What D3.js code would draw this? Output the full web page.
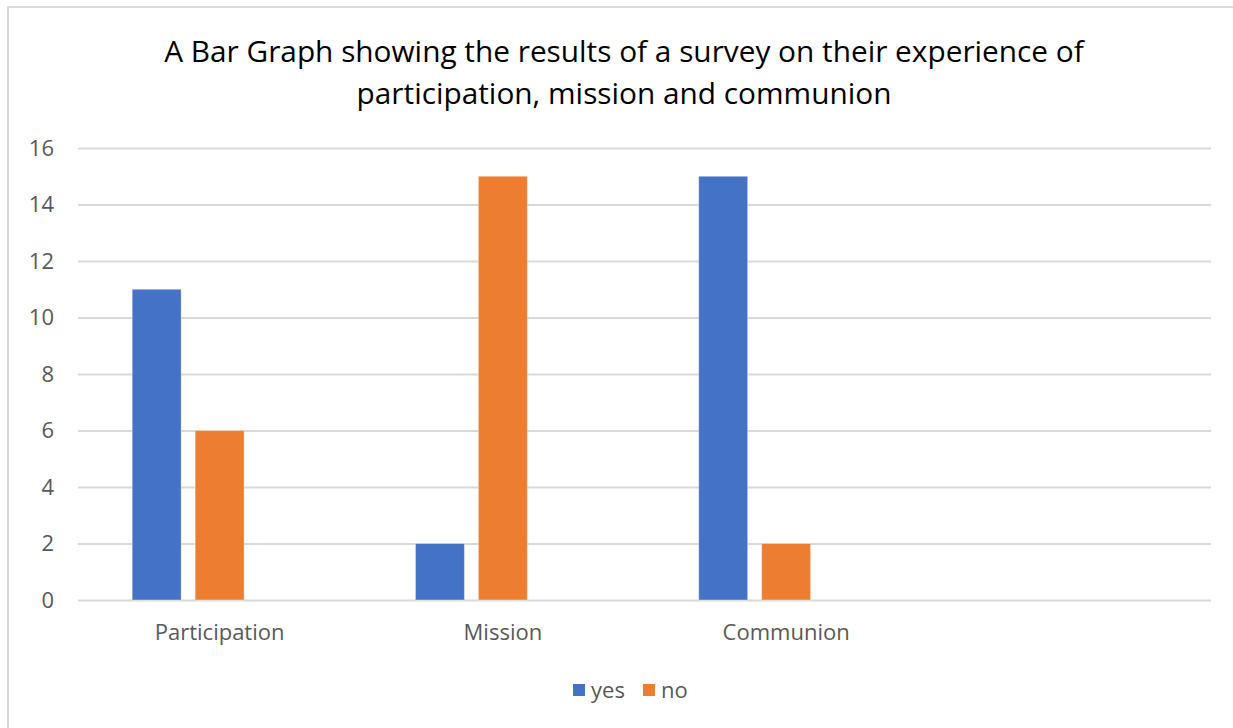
<!DOCTYPE html>
<html>
<head>
<meta charset="utf-8">
<script src="https://cdn.jsdelivr.net/npm/d3@7"></script>
<style>
  body { margin: 0; background: #fff; }
  text { font-family: "Open Sans", sans-serif; }
</style>
</head>
<body>
<div class="graph"><svg width="1233" height="728"></svg></div>
<script>
  const categories = ['Participation', 'Mission', 'Communion', '']
  const seriesNames = ['yes', 'no', '']
  const yesValues = [11, 2, 15, null]
  const noValues = [6, 15, 2, null]
  const blankValues = [null, null, null, null]
  const yTicks = [0, 2, 4, 6, 8, 10, 12, 14, 16]
  const titleLines = ['A Bar Graph showing the results of a survey on their experience of',
    'participation, mission and communion']

  const colors = { yes: '#4472C4', no: '#ED7D31', '': 'none' }
  const seriesValues = { yes: yesValues, no: noValues, '': blankValues }

  const svg = d3.select('svg')
  const margin = { left: 78, top: 148, right: 22 }
  const width = 1211 - margin.left
  const height = 600 - margin.top
  const font = '"Open Sans", sans-serif'

  // chart frame
  svg.append('rect')
    .attr('x', 8).attr('y', 7)
    .attr('width', 1240).attr('height', 740)
    .attr('fill', 'none')
    .attr('stroke', '#d9d9d9')
    .attr('stroke-width', 2)

  const title = svg.append('text')
    .attr('text-anchor', 'middle')
    .attr('font-size', '29.8px')
    .attr('fill', '#000')
  titleLines.forEach((line, i) => {
    title.append('tspan')
      .attr('x', 624)
      .attr('y', 62 + i * 42)
      .text(line)
  })

  const g = svg.append('g')
    .attr('transform', 'translate(' + margin.left + ',' + margin.top + ')')

  const x0 = d3.scaleBand().domain(categories.map((c, i) => i)).range([0, width]).padding(0)
  const x1 = d3.scaleBand().domain(seriesNames.map((s, i) => i)).range([0, x0.bandwidth()])
    .paddingInner(0.222).paddingOuter(0.861)
  const y = d3.scaleLinear().domain([0, 16]).range([height, 0])

  g.append('g')
    .attr('class', 'grid')
    .call(d3.axisLeft(y).tickValues(yTicks).tickSize(-width).tickFormat(''))
    .call(a => a.select('.domain').remove())
    .call(a => a.selectAll('line').attr('stroke', '#d9d9d9').attr('stroke-width', 2))

  g.append('g')
    .attr('class', 'y-axis')
    .call(d3.axisLeft(y).tickValues(yTicks).tickSize(0).tickPadding(24))
    .attr('font-family', font)
    .attr('font-size', 22)
    .call(a => a.select('.domain').remove())
    .call(a => a.selectAll('text').attr('fill', '#595959'))

  const groups = g.selectAll('.cat')
    .data(categories)
    .join('g')
    .attr('class', 'cat')
    .attr('transform', (d, i) => 'translate(' + x0(i) + ',0)')

  groups.selectAll('rect')
    .data((d, ci) => seriesNames.map((s, si) => ({ s, si, v: seriesValues[s][ci] })))
    .join('rect')
    .filter(d => d.v != null)
    .attr('x', d => x1(d.si))
    .attr('y', d => y(d.v))
    .attr('width', x1.bandwidth())
    .attr('height', d => height - y(d.v))
    .attr('fill', d => colors[d.s])
    .attr('stroke', '#fff')
    .attr('stroke-opacity', 0.4)
    .attr('stroke-width', 1)

  g.append('g')
    .attr('class', 'x-axis')
    .attr('transform', 'translate(0,' + height + ')')
    .call(d3.axisBottom(x0).tickSize(0).tickPadding(24).tickFormat(i => categories[i]))
    .attr('font-family', font)
    .attr('font-size', 22)
    .call(a => a.select('.domain').remove())
    .call(a => a.selectAll('text').attr('fill', '#595959'))

  // legend
  const legendItems = [
    { name: seriesNames[0], x: 573 },
    { name: seriesNames[1], x: 643 }
  ]
  const legend = svg.append('g').attr('class', 'legend')
  legendItems.forEach(item => {
    legend.append('rect')
      .attr('x', item.x).attr('y', 684)
      .attr('width', 12).attr('height', 12)
      .attr('fill', colors[item.name])
    legend.append('text')
      .attr('x', item.x + 18).attr('y', 698)
      .attr('font-size', '22px')
      .attr('fill', '#595959')
      .text(item.name)
  })
</script>
</body>
</html>
